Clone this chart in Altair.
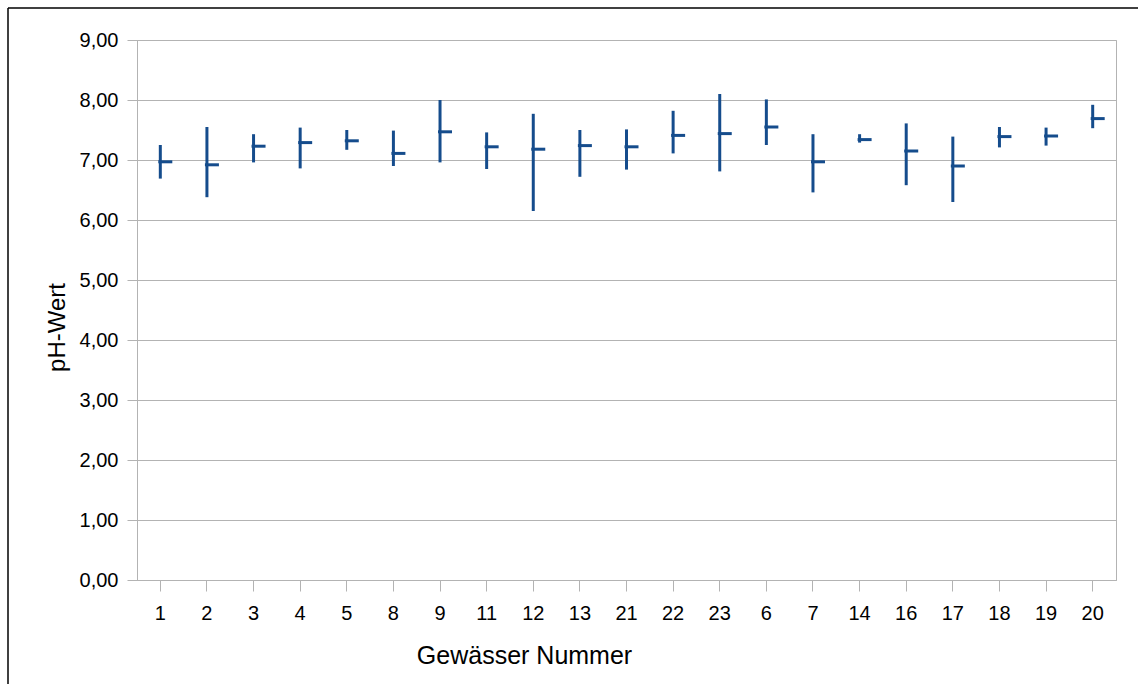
import altair as alt
import pandas as pd

# pH measurements per water body: daily range (low/high) and closing value
nummer = ["1", "2", "3", "4", "5", "8", "9", "11", "12", "13", "21",
          "22", "23", "6", "7", "14", "16", "17", "18", "19", "20"]
ph_high = [7.25, 7.55, 7.43, 7.54, 7.50, 7.49, 8.00, 7.46, 7.77, 7.50, 7.51,
           7.82, 8.10, 8.01, 7.43, 7.43, 7.61, 7.39, 7.55, 7.54, 7.92]
ph_low = [6.69, 6.38, 6.96, 6.86, 7.17, 6.90, 6.96, 6.85, 6.15, 6.72, 6.84,
          7.11, 6.81, 7.25, 6.46, 7.29, 6.58, 6.30, 7.21, 7.24, 7.53]
ph_close = [6.97, 6.92, 7.23, 7.29, 7.32, 7.11, 7.47, 7.22, 7.18, 7.24, 7.22,
            7.41, 7.44, 7.55, 6.97, 7.34, 7.15, 6.90, 7.39, 7.40, 7.69]
y_ticks = [0, 1, 2, 3, 4, 5, 6, 7, 8, 9]

df = pd.DataFrame({"Nummer": nummer, "low": ph_low, "high": ph_high, "close": ph_close})

BLUE = "#154c8c"
GRID = "#b3b3b3"
FONT = "Liberation Sans"

x_enc = alt.X(
    "Nummer:O",
    sort=nummer,
    scale=alt.Scale(paddingInner=0, paddingOuter=0),
    axis=alt.Axis(
        title="Gewässer Nummer",
        labelAngle=0,
        labelFontSize=20,
        labelPadding=12,
        tickSize=11,
        tickColor=GRID,
        domainColor=GRID,
        grid=False,
        titleFontSize=25,
        titleFontWeight="normal",
        titleX=387,
        titleY=83,
        titleBaseline="alphabetic",
    ),
)

y_scale = alt.Scale(domain=[0, 9], nice=False, zero=True)
y_axis = alt.Axis(
    title="pH-Wert",
    values=y_ticks,
    labelExpr="replace(format(datum.value, '.2f'), '.', ',')",
    labelFontSize=20,
    labelPadding=9,
    tickSize=10,
    tickColor=GRID,
    domainColor=GRID,
    gridColor=GRID,
    titleFontSize=24,
    titleFontWeight="normal",
    titleAngle=-90,
    titleX=-73,
    titleY=287,
    titleAlign="center",
    titleBaseline="alphabetic",
)

base = alt.Chart(df)

ranges = base.mark_rule(color=BLUE, strokeWidth=3).encode(
    x=x_enc,
    y=alt.Y("low:Q", scale=y_scale, axis=y_axis),
    y2="high:Q",
)

closes = base.mark_tick(color=BLUE, opacity=1, thickness=3, size=14, xOffset=5).encode(
    x=alt.X("Nummer:O", sort=nummer),
    y=alt.Y("close:Q", scale=y_scale),
)

# outer black frame lines along the top and left edge of the page
frame_src = alt.Data(values=[{"k": 0}])
frame_left = alt.Chart(frame_src).mark_rule(color="black", strokeWidth=1.5).encode(
    x=alt.value(-129), y=alt.value(-32), y2=alt.value(660)
)
frame_top = alt.Chart(frame_src).mark_rule(color="black", strokeWidth=1.5).encode(
    x=alt.value(-129), x2=alt.value(1020), y=alt.value(-32)
)

chart = (
    alt.layer(ranges, closes, frame_left, frame_top)
    .properties(
        width=979,
        height=540,
        autosize=alt.AutoSizeParams(type="none"),
        padding={"left": 137, "top": 40, "right": 22, "bottom": 104},
        background="white",
    )
    .configure_view(stroke=GRID, strokeWidth=1)
    .configure_axis(labelFont=FONT, titleFont=FONT, labelColor="black", titleColor="black")
)

chart.save("out.html", embed_options={"renderer": "svg", "actions": False})
